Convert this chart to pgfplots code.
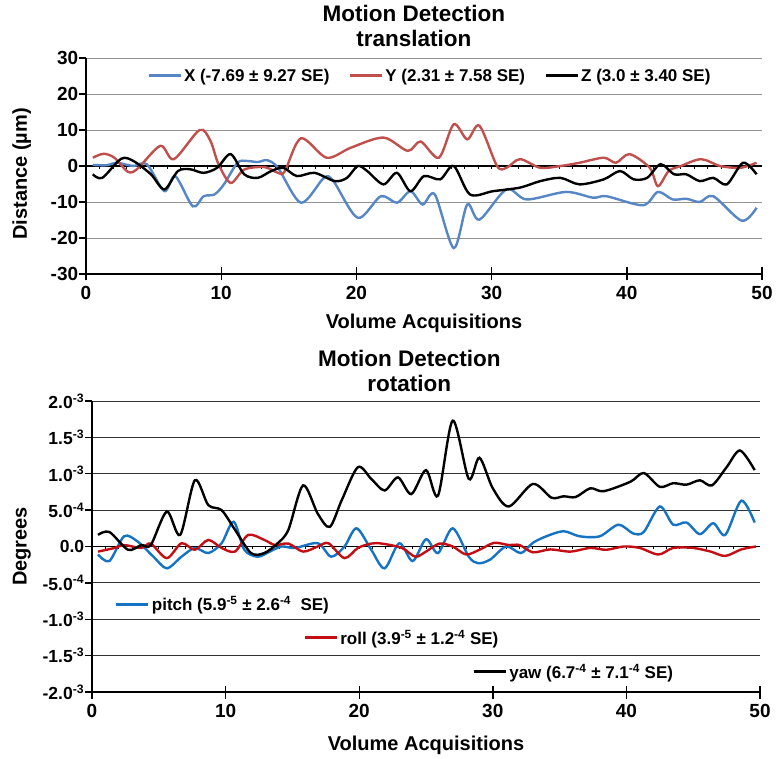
\documentclass[border=0pt]{standalone}
\usepackage{fontspec}
\setmainfont{Liberation Sans}
\usepackage{pgfplots}
\pgfplotsset{compat=1.18}
\definecolor{cX}{RGB}{86,135,196}
\definecolor{cY}{RGB}{192,80,77}
\definecolor{cP}{RGB}{20,115,195}
\definecolor{cR}{RGB}{195,15,20}
\pgfplotsset{
  common/.style={
    scale only axis, xmin=0, xmax=50,
    axis x line*=bottom, axis y line*=left,
    axis line style={-},
    xtick={0,10,...,50}, xticklabels={0,10,20,30,40,50},
    xticklabel style={font=\fontsize{19}{19}\selectfont\bfseries, yshift=-7pt},
    label style={font=\fontsize{20}{22}\selectfont\bfseries},
    title style={font=\fontsize{22.5}{25}\selectfont\bfseries, align=center},
    ymajorgrids,
    xtick align=center, ytick align=outside,
    xtick style={black, line width=1.4pt, /pgfplots/major tick length=13pt},
    ytick style={black, line width=1.4pt, /pgfplots/major tick length=7pt},
    x axis line style={line width=1.4pt},
    y axis line style={line width=2pt},
  },
  topgeom/.style={scale only axis, at={(86pt,484pt)}, anchor=south west, width=676pt, height=216pt,
    xmin=0, xmax=50, ymin=-30, ymax=30},
  botgeom/.style={scale only axis, at={(92pt,66pt)}, anchor=south west, width=668pt, height=291pt,
    xmin=0, xmax=50, ymin=-20, ymax=20},
  leg/.style={legend style={draw=none, fill=none, inner sep=0pt,
    font=\fontsize{17}{17}\selectfont\bfseries},
    legend image code/.code={\draw[##1, line width=3pt] (0pt,0pt) -- (32pt,0pt);}},
}
\begin{document}
\begin{tikzpicture}
\path[use as bounding box] (0pt,0pt) rectangle (784pt,758pt);
% ---------------- top chart
\begin{axis}[common, topgeom,
  ytick={-30,-20,...,30}, yticklabels={-30,-20,-10,0,10,20,30},
  yticklabel style={font=\fontsize{19}{19}\selectfont\bfseries},
  major grid style={gray!85, line width=0.9pt},
  extra y ticks={0}, extra y tick labels={},
  extra y tick style={grid=major, major grid style={black, line width=1.8pt}},
  title={Motion Detection\\translation},
  title style={at={(0.485,1)}, anchor=south, yshift=2pt},
  xlabel={Volume Acquisitions},
  xlabel style={at={(axis description cs:0.5,-0.227)}, anchor=center},
  ylabel={Distance (µm)},
  ylabel style={at={(axis description cs:-0.095,0.463)}, anchor=center},
  leg, legend columns=3,
  legend style={at={(0.09,0.917)}, anchor=west, font=\fontsize{17}{17}\selectfont\bfseries,
    /tikz/every even column/.append style={column sep=17pt}},
]
\addplot[ycomb, black, line width=1pt, forget plot] coordinates {(1,-0.8)(2,-0.8)(3,-0.8)(4,-0.8)(5,-0.8)(6,-0.8)(7,-0.8)(8,-0.8)(9,-0.8)(10,-0.8)(11,-0.8)(12,-0.8)(13,-0.8)(14,-0.8)(15,-0.8)(16,-0.8)(17,-0.8)(18,-0.8)(19,-0.8)(20,-0.8)(21,-0.8)(22,-0.8)(23,-0.8)(24,-0.8)(25,-0.8)(26,-0.8)(27,-0.8)(28,-0.8)(29,-0.8)(30,-0.8)(31,-0.8)(32,-0.8)(33,-0.8)(34,-0.8)(35,-0.8)(36,-0.8)(37,-0.8)(38,-0.8)(39,-0.8)(40,-0.8)(41,-0.8)(42,-0.8)(43,-0.8)(44,-0.8)(45,-0.8)(46,-0.8)(47,-0.8)(48,-0.8)(49,-0.8)};
\addplot[cX, line width=2.4pt, smooth] coordinates {(0.5,0.3)(1.5,0.2)(2.3,0.9)(3.5,0)(4.5,0.5)(5.8,-7)(6.6,-2.8)(7.9,-11.2)(8.7,-8.4)(9.5,-7.9)(10.2,-5.1)(11.2,0.9)(11.9,1.4)(12.7,1.1)(13.4,1.6)(14.2,-0.5)(15.9,-10.2)(17.6,-3.3)(18.3,-4.2)(20.1,-14.4)(21.8,-8.4)(23,-10.2)(24,-7)(24.9,-10.7)(25.8,-7.9)(27.2,-22.8)(28.2,-10.7)(29.1,-14.9)(31.1,-6.5)(32.6,-9.3)(35.5,-7.2)(37.5,-8.8)(38.5,-8.4)(41.2,-10.9)(42.3,-7.2)(43.4,-9.3)(44.4,-9.1)(45.4,-10)(46.4,-8.4)(48.5,-15.2)(49.6,-11.6)};
\addlegendentry{X (-7.69 ± 9.27 SE)}
\addplot[cY, line width=2.4pt, smooth] coordinates {(0.5,2.3)(1.3,3.4)(2.1,2.3)(3.1,-1.6)(3.8,-0.8)(5.5,5.6)(6.5,1.9)(8.4,10)(9.2,7)(9.8,0.5)(10.7,-4.7)(11.7,-1)(13.2,-0.3)(14.2,-1.9)(14.7,-1.5)(15.9,7.7)(17.8,2.3)(19.6,5.1)(22,7.9)(23.8,4.2)(24.75,6.8)(26.1,2.3)(27.2,11.6)(28.2,7.4)(29.1,11.2)(30.4,0)(31.1,-0.5)(32.1,1.9)(33.6,-0.5)(35.1,0)(36.5,0.9)(38.3,2.3)(39.2,0.9)(40.2,3.3)(41.7,-0.5)(42.3,-5.6)(43.1,-1.4)(44,0)(45.5,1.9)(46.9,0)(48.4,-0.5)(49.6,0.9)};
\addlegendentry{Y (2.31 ± 7.58 SE)}
\addplot[black, line width=2.4pt, smooth] coordinates {(0.5,-2.3)(1.2,-3.3)(2.6,2)(3.5,1.4)(4.8,-2.3)(5.8,-6.5)(6.8,-1.4)(7.7,-0.9)(8.7,-1.9)(9.7,-0.5)(10.7,3.3)(11.7,-2.3)(12.7,-3.3)(13.7,-1.4)(14.6,-0.5)(15.6,-2.8)(16.9,-1.9)(18.4,-4.2)(19.3,-3.3)(20.1,0)(20.8,-1.4)(22,-5.1)(23,-1.9)(24,-7)(25,-2.8)(26.2,-3.7)(27.2,0)(28.4,-7.9)(30.1,-7)(32.1,-6)(33.6,-4.2)(35.1,-3.3)(36.5,-5.1)(38.3,-3.7)(39.5,-1.4)(40.5,-3.7)(41.5,-3.3)(42.5,0.5)(43.5,-2.3)(44.4,-2.3)(45.4,-4.2)(46.4,-3.3)(47.4,-5.1)(48.6,0.9)(49.6,-2.3)};
\addlegendentry{Z (3.0 ± 3.40 SE)}
\end{axis}
% ---------------- bottom chart base
\begin{axis}[common, botgeom,
  ytick={-20,-15,...,20},
  yticklabels={-2.0\textsuperscript{-3},-1.5\textsuperscript{-3},-1.0\textsuperscript{-3},-5.0\textsuperscript{-4},0.0,5.0\textsuperscript{-4},1.0\textsuperscript{-3},1.5\textsuperscript{-3},2.0\textsuperscript{-3}},
  yticklabel style={font=\fontsize{17.5}{17.5}\selectfont\bfseries},
  major grid style={black!80, line width=0.9pt},
  extra y ticks={0}, extra y tick labels={},
  extra y tick style={grid=major, major grid style={black, line width=1.8pt}},
  title={Motion Detection\\rotation},
  title style={at={(0.475,1)}, anchor=south, yshift=0pt},
  xlabel={Volume Acquisitions},
  xlabel style={at={(axis description cs:0.5,-0.182)}, anchor=center},
  ylabel={Degrees},
  ylabel style={at={(axis description cs:-0.105,0.5)}, anchor=center},
]
\addplot[ycomb, black, line width=1pt] coordinates {(1,-0.4)(2,-0.4)(3,-0.4)(4,-0.4)(5,-0.4)(6,-0.4)(7,-0.4)(8,-0.4)(9,-0.4)(10,-0.4)(11,-0.4)(12,-0.4)(13,-0.4)(14,-0.4)(15,-0.4)(16,-0.4)(17,-0.4)(18,-0.4)(19,-0.4)(20,-0.4)(21,-0.4)(22,-0.4)(23,-0.4)(24,-0.4)(25,-0.4)(26,-0.4)(27,-0.4)(28,-0.4)(29,-0.4)(30,-0.4)(31,-0.4)(32,-0.4)(33,-0.4)(34,-0.4)(35,-0.4)(36,-0.4)(37,-0.4)(38,-0.4)(39,-0.4)(40,-0.4)(41,-0.4)(42,-0.4)(43,-0.4)(44,-0.4)(45,-0.4)(46,-0.4)(47,-0.4)(48,-0.4)(49,-0.4)};
\end{axis}
% pitch
\begin{axis}[botgeom, hide axis, leg, legend style={at={(0.034,0.302)}, anchor=west}]
\addplot[cP, line width=2.4pt, smooth] coordinates {(0.45,-1.1)(1.3,-2.0)(2.4,1.4)(3.4,0.7)(4.6,-1.4)(5.6,-3.0)(6.7,-1.4)(7.7,-0.2)(8.7,-0.9)(9.7,0.45)(10.6,3.4)(11.4,-0.45)(12.4,-1.4)(13.3,-0.7)(14.2,0)(15.2,-0.2)(16.9,0.45)(17.9,-1.4)(18.9,0)(19.8,2.5)(20.9,-0.45)(21.9,-3.0)(23,0.45)(24,-2.0)(25,1.0)(25.9,-0.9)(27,2.5)(28.2,-1.4)(28.9,-2.3)(29.8,-1.8)(31,0)(32.1,-0.9)(33,0.5)(34,1.4)(35.3,2.1)(36.5,1.4)(38,1.4)(39.4,3.0)(40.5,1.8)(41.3,2.0)(42.5,5.5)(43.5,3.0)(44.5,3.3)(45.5,1.7)(46.5,3.2)(47.4,1.6)(48.6,6.3)(49.6,3.3)};
\addlegendentry{pitch (5.9\textsuperscript{-5} ± 2.6\textsuperscript{-4}\ \ SE)}
\end{axis}
% roll
\begin{axis}[botgeom, hide axis, leg, legend style={at={(0.316,0.186)}, anchor=west}]
\addplot[cR, line width=2.4pt, smooth] coordinates {(0.45,-0.7)(1.7,-0.2)(2.4,0.2)(3.7,-0.2)(4.4,0.4)(5.6,-1.6)(6.7,0.45)(7.7,-0.45)(8.7,0.9)(9.7,-0.2)(10.7,-0.7)(11.7,1.6)(12.9,0.9)(13.7,0.2)(14.7,0.4)(15.8,-0.7)(16.9,0)(17.7,0.45)(18.9,-1.6)(19.9,-0.2)(20.9,0.4)(21.7,0.4)(23.2,-0.2)(24.2,-1.4)(25,-0.7)(26,0.4)(27,0)(28,-1.1)(29,-0.45)(30.1,0.5)(31.2,0.2)(32,0.2)(33,-0.8)(34.3,-0.4)(35.8,-0.7)(37.3,-0.2)(38.5,-0.45)(39.8,0)(41,-0.2)(42.4,-1.1)(43.5,-0.2)(45,-0.2)(46.3,-0.7)(47.4,-1.3)(48.6,-0.4)(49.7,0)};
\addlegendentry{roll (3.9\textsuperscript{-5} ± 1.2\textsuperscript{-4} SE)}
\end{axis}
% yaw
\begin{axis}[botgeom, hide axis, leg, legend style={at={(0.569,0.069)}, anchor=west}]
\addplot[black, line width=2.4pt, smooth] coordinates {(0.45,1.6)(1.3,2.0)(2.7,-0.45)(3.7,0.2)(4.4,0.2)(5.6,4.8)(6.6,1.6)(7.7,9.1)(8.7,5.7)(9.7,5.0)(10.7,2.3)(11.9,-0.9)(12.9,-0.9)(13.9,0.45)(14.7,2.3)(15.8,8.4)(16.9,4.5)(17.8,2.7)(18.7,6.4)(19.9,10.9)(20.9,9.3)(21.9,7.7)(22.9,9.5)(23.9,7.2)(25,10.5)(25.9,7.0)(27.0,17.3)(28.2,9.3)(29.0,12.2)(30.0,8.0)(31.2,5.5)(33,8.6)(34.4,6.7)(35.3,6.9)(36.2,6.8)(37.3,8.0)(38.3,7.6)(40.3,8.9)(41.3,10.1)(42.5,8.2)(43.5,8.7)(44.5,8.5)(45.5,9.1)(46.4,8.4)(47.5,10.9)(48.5,13.2)(49.6,10.5)};
\addlegendentry{yaw (6.7\textsuperscript{-4} ± 7.1\textsuperscript{-4} SE)}
\end{axis}
\end{tikzpicture}
\end{document}
